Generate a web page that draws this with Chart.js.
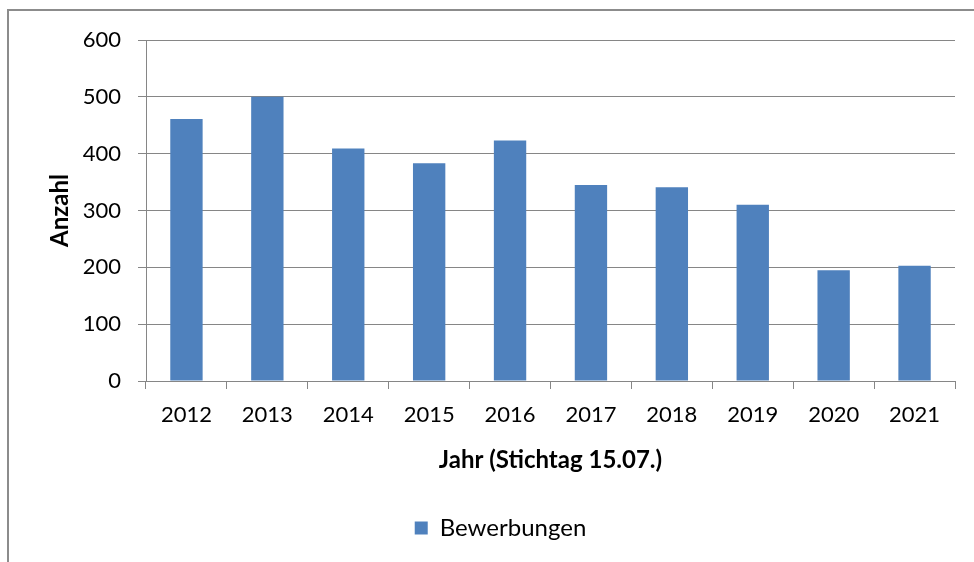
<!DOCTYPE html>
<html>
<head>
<meta charset="utf-8">
<script src="https://cdn.jsdelivr.net/npm/chart.js@4"></script>
<style>
    html, body { margin: 0; padding: 0; background: #fff; }
    #wrap { position: relative; width: 974px; height: 562px; overflow: hidden; }
    #frame {
        position: absolute; left: 7px; top: 9px; width: 1000px; height: 600px;
        border-top: 2px solid #8c8c8c; border-left: 2px solid #8c8c8c;
        pointer-events: none;
    }
    canvas { position: absolute; left: 0; top: 0; }
</style>
</head>
<body>
<div id="wrap">
    <div id="frame"></div>
    <canvas id="chart" width="974" height="562"></canvas>
</div>
<script>
// Data
const years = ['2012', '2013', '2014', '2015', '2016', '2017', '2018', '2019', '2020', '2021'];
const bewerbungen = [461, 500, 409, 383, 423, 345, 341, 310, 195, 203];
const yTicks = [0, 100, 200, 300, 400, 500, 600];

const fontFamily = 'Lato, "Open Sans", sans-serif';
const gridColor = '#868686';

document.addEventListener('DOMContentLoaded', function() {
    const ctx = document.getElementById('chart');

    new Chart(ctx, {
        type: 'bar',
        data: {
            labels: years,
            datasets: [{
                label: 'Bewerbungen',
                data: bewerbungen,
                backgroundColor: '#4f81bd',
                borderWidth: 0,
                categoryPercentage: 1,
                barPercentage: 0.4
            }]
        },
        options: {
            responsive: false,
            animation: false,
            layout: {
                padding: { left: 46, right: 19, top: 40, bottom: 12 }
            },
            plugins: {
                tooltip: { enabled: false },
                legend: {
                    position: 'bottom',
                    labels: {
                        boxWidth: 13,
                        boxHeight: 13,
                        padding: 10,
                        color: '#000',
                        font: { family: fontFamily, size: 24 }
                    }
                }
            },
            scales: {
                x: {
                    grid: {
                        drawOnChartArea: false,
                        drawTicks: true,
                        tickLength: 8,
                        color: gridColor
                    },
                    border: { color: gridColor, width: 1 },
                    ticks: {
                        padding: 13,
                        color: '#000',
                        font: { family: fontFamily, size: 22 }
                    },
                    title: {
                        display: true,
                        text: 'Jahr (Stichtag 15.07.)',
                        color: '#000',
                        font: { family: fontFamily, size: 24, weight: 'bold' },
                        padding: { top: 18, bottom: 31 }
                    },
                    afterFit: function(scale) { scale.height = 125; }
                },
                y: {
                    min: 0,
                    max: 600,
                    afterBuildTicks: function(scale) {
                        scale.ticks = yTicks.map(v => ({ value: v }));
                    },
                    grid: {
                        drawTicks: true,
                        tickLength: 8,
                        color: gridColor
                    },
                    border: { color: gridColor, width: 1 },
                    ticks: {
                        padding: 17,
                        color: '#000',
                        font: { family: fontFamily, size: 22 }
                    },
                    title: {
                        display: true,
                        text: 'Anzahl',
                        color: '#000',
                        font: { family: fontFamily, size: 24, weight: 'bold' },
                        padding: { top: 0, bottom: 0 }
                    },
                    afterFit: function(scale) { scale.width = 100; }
                }
            }
        }
    });
});
</script>
</body>
</html>
